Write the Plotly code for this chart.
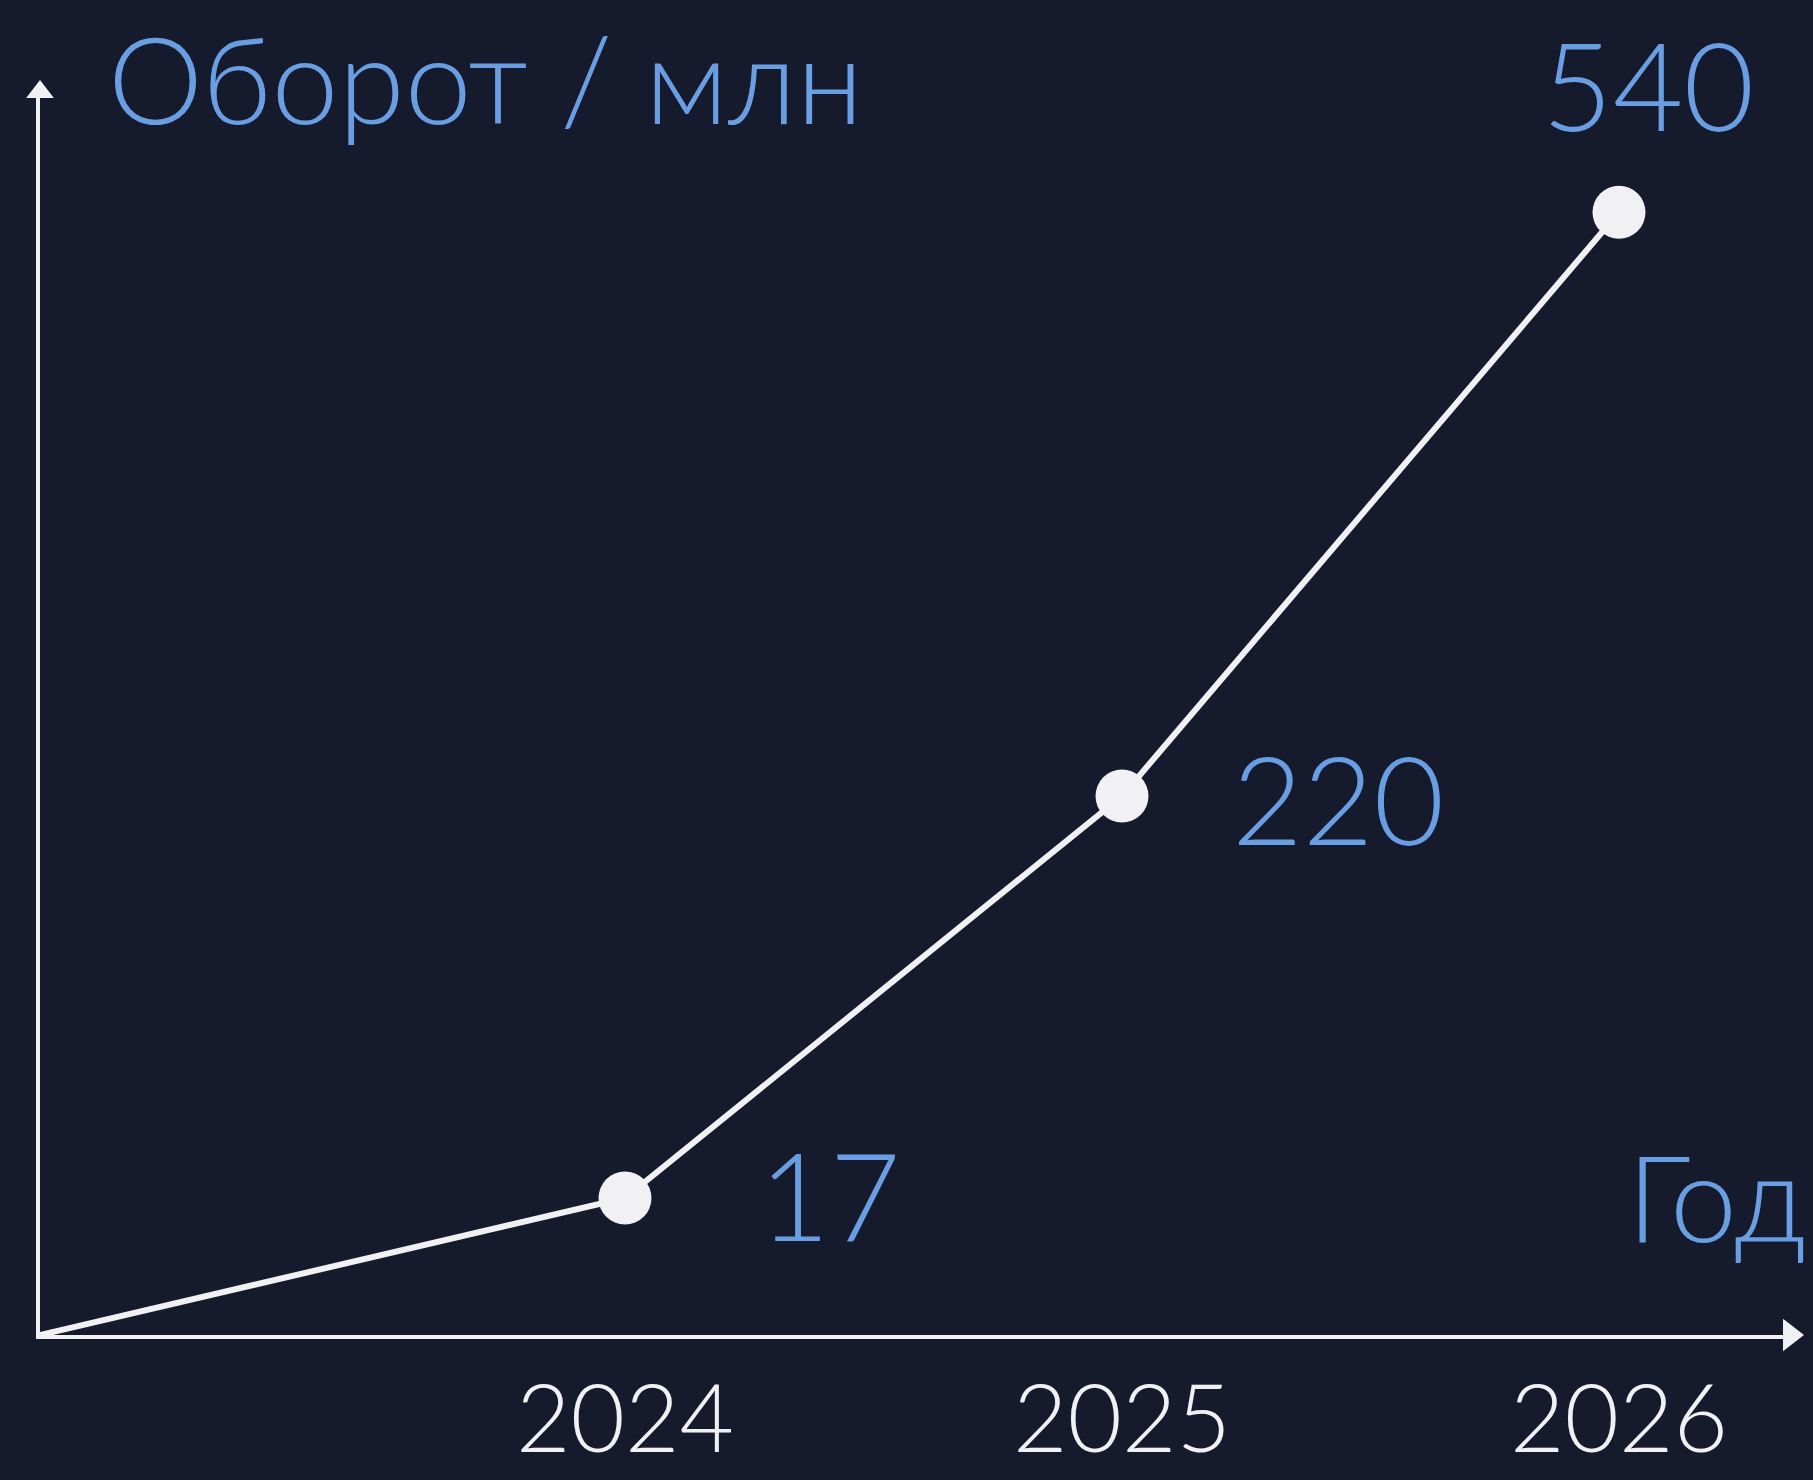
import plotly.graph_objects as go

# ---------------- data ----------------
years = [2024, 2025, 2026]
turnover = [17, 220, 540]            # labelled values, млн
drawn_level = [12.2, 48.0, 100.0]    # schematic height of each point (% of peak)
y_title = "Оборот / млн"
x_title = "Год"

# ---------------- style / layout ----------------
W, H = 1813, 1480
BG = "#151a2d"
BLUE = "#6a9ee2"
WHITE = "#f1f1f3"
FONT = "Lato"

L, R, T, B = 40, 23, 92, 145          # margins (px)
plot_w = W - L - R
plot_h = H - T - B
PX_PER_YEAR = 497
CENTER_PX = 1122                      # pixel of middle year
x0 = years[1] - (CENTER_PX - L) / PX_PER_YEAR
x1 = x0 + plot_w / PX_PER_YEAR
PX_PER_LEVEL = 11.227
y1 = plot_h / PX_PER_LEVEL


def px_x(p):
    return (p - L) / plot_w


def px_y(p):
    return (H - B - p) / plot_h


fig = go.Figure()

# main line (starts at axis origin)
fig.add_trace(go.Scatter(
    x=[x0] + years, y=[0] + drawn_level,
    mode="lines",
    line=dict(color=WHITE, width=6),
    cliponaxis=False, hoverinfo="skip", showlegend=False,
))
fig.add_trace(go.Scatter(
    x=years, y=drawn_level,
    mode="markers",
    marker=dict(color=WHITE, size=53),
    cliponaxis=False, showlegend=False,
))

# arrow heads at axis ends
fig.add_trace(go.Scatter(
    x=[x1], y=[0], mode="markers",
    marker=dict(symbol="triangle-right", color=WHITE, size=28),
    cliponaxis=False, hoverinfo="skip", showlegend=False,
))
fig.add_trace(go.Scatter(
    x=[x0], y=[y1], mode="markers",
    marker=dict(symbol="triangle-up", color=WHITE, size=24),
    cliponaxis=False, hoverinfo="skip", showlegend=False,
))

# value labels
label_pos = [
    dict(xanchor="left", yanchor="middle", xshift=132, yshift=4),
    dict(xanchor="left", yanchor="middle", xshift=108, yshift=-2),
    dict(xanchor="center", yanchor="middle", xshift=29, yshift=128),
]
for yr, lv, val, pos in zip(years, drawn_level, turnover, label_pos):
    fig.add_annotation(
        x=yr, y=lv, text=str(val), showarrow=False,
        font=dict(family=FONT, size=122, color=BLUE, weight=300),
        **pos,
    )

# axis titles
fig.add_annotation(
    xref="paper", yref="paper", x=px_x(106), y=px_y(78),
    text=y_title, showarrow=False, xanchor="left", yanchor="middle",
    font=dict(family=FONT, size=120, color=BLUE, weight=300),
)
fig.add_annotation(
    xref="paper", yref="paper", x=px_x(1808), y=px_y(1196),
    text=x_title, showarrow=False, xanchor="right", yanchor="middle",
    font=dict(family=FONT, size=120, color=BLUE, weight=300),
)

fig.update_layout(
    width=W, height=H,
    margin=dict(l=L, r=R, t=T, b=B, pad=0),
    paper_bgcolor=BG, plot_bgcolor=BG,
    showlegend=False,
    xaxis=dict(
        range=[x0, x1], showgrid=False, zeroline=False, automargin=False,
        showline=True, linecolor=WHITE, linewidth=4,
        tickmode="array", tickvals=years, ticktext=[str(y) for y in years],
        ticks="", ticklabelstandoff=0,
        tickfont=dict(family=FONT, size=94, color=WHITE, weight=300),
    ),
    yaxis=dict(
        range=[0, y1], showgrid=False, zeroline=False, automargin=False,
        showline=True, linecolor=WHITE, linewidth=4,
        showticklabels=False, ticks="",
    ),
)

fig.write_html(
    "out.html",
    config={"displayModeBar": False},
    post_script="document.body.style.margin='0';document.body.style.background='%s';" % BG,
)
